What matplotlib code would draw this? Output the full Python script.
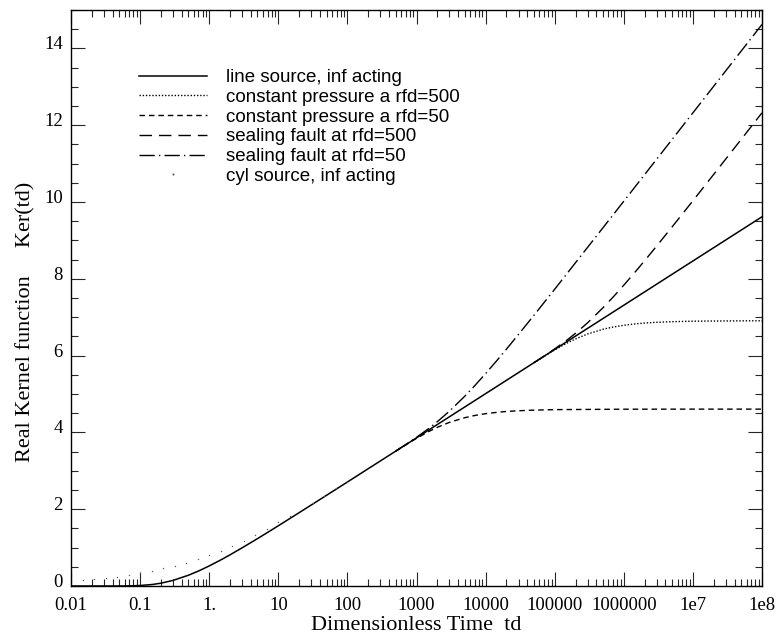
import numpy as np
import matplotlib.pyplot as plt
import matplotlib.transforms as mtransforms
from matplotlib.ticker import LogLocator, MultipleLocator, NullFormatter

# line source, infinite acting
td_line = [0.01, 0.02, 0.03, 0.05, 0.07, 0.1, 0.15, 0.2, 0.3, 0.5, 0.7, 1, 1.5, 2, 3, 5, 7,
           10, 20, 50, 100, 1000, 1e4, 1e5, 1e6, 1e7, 1e8]
ker_line = [0.0, 0.0, 0.0, 0.0006, 0.0032, 0.0125, 0.039, 0.073, 0.146, 0.280, 0.390, 0.522,
            0.687, 0.811, 0.995, 1.234, 1.395, 1.568, 1.909, 2.363, 2.708, 3.858, 5.009,
            6.161, 7.312, 8.464, 9.615]

# boundary at rfd=50
td_50 = [500, 700, 1000, 1500, 2000, 3000, 5000, 7000, 1e4, 1.5e4, 2e4, 3e4, 5e4, 1e5,
         1e6, 1e7, 1e8]
ker_cp50 = [3.511, 3.677, 3.846, 4.022, 4.132, 4.262, 4.383, 4.441, 4.487, 4.525, 4.545,
            4.564, 4.580, 4.593, 4.604, 4.606, 4.606]
ker_sf50 = [3.513, 3.683, 3.871, 4.100, 4.278, 4.554, 4.943, 5.221, 5.531, 5.899, 6.167,
            6.554, 7.048, 7.729, 10.020, 12.322, 14.624]

# boundary at rfd=500
td_500 = [5e4, 7e4, 1e5, 1.5e5, 2e5, 3e5, 5e5, 7e5, 1e6, 1.5e6, 2e6, 3e6, 5e6, 1e7, 2e7,
          5e7, 1e8]
ker_cp500 = [5.813, 5.980, 6.149, 6.325, 6.434, 6.564, 6.686, 6.744, 6.790, 6.828, 6.848,
             6.867, 6.883, 6.896, 6.901, 6.905, 6.907]
ker_sf500 = [5.815, 5.986, 6.174, 6.403, 6.580, 6.856, 7.246, 7.524, 7.834, 8.202, 8.470,
             8.857, 9.351, 10.032, 10.719, 11.631, 12.323]

# cylindrical source, infinite acting (dots)
td_cyl = [0.01, 0.0147, 0.0215, 0.0316, 0.0464, 0.0681, 0.1, 0.147, 0.215, 0.316, 0.464,
          0.681, 1.0, 1.47, 2.15, 3.16, 4.64, 6.81, 10, 14.7, 21.5, 31.6, 46.4, 68.1, 100]
ker_cyl = [0.13, 0.15, 0.175, 0.205, 0.245, 0.29, 0.34, 0.40, 0.46, 0.53, 0.61, 0.70,
           0.81, 0.92, 1.04, 1.18, 1.33, 1.49, 1.66, 1.82, 1.99, 2.17, 2.35, 2.54, 2.72]

xtick_vals = [0.01, 0.1, 1, 10, 100, 1000, 1e4, 1e5, 1e6, 1e7, 1e8]
xtick_labels = ['0.01', '0.1', '1.', '10', '100', '1000', '10000', '100000', '1000000',
                '1e7', '1e8']

serif = 'Liberation Serif'
sans = 'Liberation Sans'

fig = plt.figure(figsize=(7.78, 6.39), dpi=100)
ax = fig.add_axes([71 / 778, 1 - 586 / 639, (762 - 71) / 778, (586 - 10) / 639])

ax.plot(td_line, ker_line, color='black', lw=1.1, label='line source, inf acting')
ax.plot(td_500, ker_cp500, color='black', lw=1.0, linestyle=(0, (1, 1.3)),
        label='constant pressure a rfd=500')
ax.plot(td_50, ker_cp50, color='black', lw=1.0, linestyle=(0, (4, 2.8)),
        label='constant pressure a rfd=50')
ax.plot(td_500, ker_sf500, color='black', lw=1.0, linestyle=(0, (9, 5)),
        label='sealing fault at rfd=500')
ax.plot(td_50, ker_sf50, color='black', lw=1.0, linestyle=(0, (11, 3, 1, 3)),
        label='sealing fault at rfd=50')
ax.plot(td_cyl, ker_cyl, linestyle='none', marker='o', ms=1.0, mew=0,
        color='0.35', label='cyl source, inf acting')

ax.set_xscale('log')
ax.set_xlim(0.01, 1e8)
ax.set_ylim(0, 15)
ax.set_xticks(xtick_vals, xtick_labels)
ax.xaxis.set_minor_locator(LogLocator(base=10, subs=range(2, 10), numticks=20))
ax.xaxis.set_minor_formatter(NullFormatter())
ax.yaxis.set_major_locator(MultipleLocator(2))
ax.yaxis.set_minor_locator(MultipleLocator(0.5))

ax.tick_params(which='both', direction='in', top=True, right=True, width=0.8,
               colors='0.15')
ax.tick_params(which='major', length=10, pad=6)
ax.tick_params(which='minor', length=5)
ax.tick_params(axis='x', which='major', pad=8)
for lab in ax.get_xticklabels() + ax.get_yticklabels():
    lab.set_fontfamily(serif)
    lab.set_fontsize(13.5)
    lab.set_color('black')
# y labels sit a little above their ticks in the original
lift = mtransforms.ScaledTranslation(0, 4 / 72, fig.dpi_scale_trans)
for lab in ax.get_yticklabels():
    lab.set_transform(lab.get_transform() + lift)
for s in ax.spines.values():
    s.set_linewidth(1.0)

ax.set_xlabel('Dimensionless Time  td', fontfamily=serif, fontsize=16, labelpad=1)
ax.set_ylabel('Real Kernel function     Ker(td)', fontfamily=serif, fontsize=16)
ax.yaxis.set_label_coords(-0.051, 0.458)

ax.legend(loc='upper left', bbox_to_anchor=(139 / 778, 1 - 69 / 639),
          bbox_transform=fig.transFigure, frameon=False, borderpad=0, borderaxespad=0,
          handlelength=3.64, handletextpad=0.98, labelspacing=0.14, numpoints=1,
          markerscale=1.5, prop={'family': sans, 'size': 13.5})

fig.savefig('out.png', dpi=100)
